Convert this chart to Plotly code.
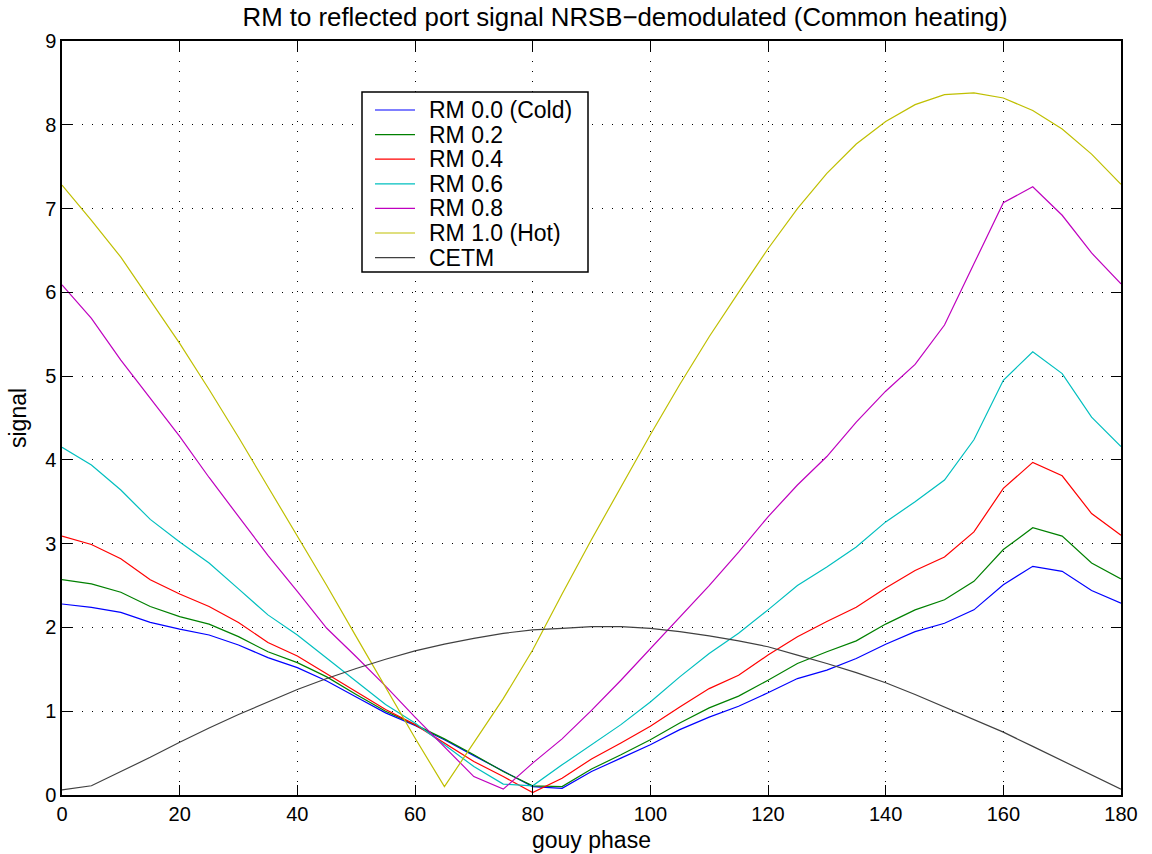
import plotly.graph_objects as go

# gouy phase (degrees)
gouy_phase = [0, 5, 10, 15, 20, 25, 30, 35, 40, 45, 50, 55, 60, 65, 70, 75, 80, 85, 90,
              95, 100, 105, 110, 115, 120, 125, 130, 135, 140, 145, 150, 155, 160, 165,
              170, 175, 180]

rm_00 = [2.28, 2.24, 2.18, 2.06, 1.98, 1.91, 1.79, 1.64, 1.52, 1.36, 1.17, 0.98, 0.83,
         0.66, 0.47, 0.28, 0.10, 0.08, 0.28, 0.44, 0.60, 0.78, 0.93, 1.06, 1.22, 1.39,
         1.49, 1.63, 1.80, 1.95, 2.05, 2.21, 2.51, 2.73, 2.67, 2.44, 2.29]
rm_02 = [2.57, 2.52, 2.42, 2.25, 2.13, 2.04, 1.89, 1.71, 1.58, 1.41, 1.20, 1.00, 0.84,
         0.67, 0.48, 0.28, 0.11, 0.10, 0.31, 0.48, 0.66, 0.86, 1.04, 1.18, 1.37, 1.57,
         1.71, 1.84, 2.04, 2.21, 2.33, 2.55, 2.93, 3.19, 3.09, 2.77, 2.58]
rm_04 = [3.09, 2.99, 2.82, 2.57, 2.40, 2.25, 2.06, 1.82, 1.66, 1.45, 1.24, 1.02, 0.84,
         0.62, 0.40, 0.22, 0.03, 0.20, 0.43, 0.62, 0.82, 1.05, 1.27, 1.43, 1.67, 1.89,
         2.07, 2.24, 2.47, 2.68, 2.84, 3.14, 3.66, 3.97, 3.81, 3.36, 3.10]
rm_06 = [4.15, 3.94, 3.64, 3.29, 3.02, 2.77, 2.46, 2.15, 1.91, 1.63, 1.35, 1.08, 0.86,
         0.60, 0.34, 0.13, 0.11, 0.36, 0.60, 0.84, 1.11, 1.41, 1.69, 1.93, 2.21, 2.50,
         2.72, 2.96, 3.26, 3.50, 3.76, 4.24, 4.95, 5.29, 5.03, 4.51, 4.16]
rm_08 = [6.09, 5.69, 5.19, 4.74, 4.28, 3.79, 3.32, 2.86, 2.43, 1.99, 1.65, 1.30, 0.93,
         0.58, 0.22, 0.07, 0.38, 0.67, 1.01, 1.37, 1.75, 2.13, 2.50, 2.90, 3.32, 3.70,
         4.04, 4.45, 4.82, 5.14, 5.61, 6.34, 7.07, 7.26, 6.92, 6.47, 6.10]
rm_10 = [7.28, 6.86, 6.42, 5.90, 5.39, 4.84, 4.27, 3.68, 3.09, 2.50, 1.89, 1.28, 0.68,
         0.10, 0.62, 1.15, 1.73, 2.40, 3.05, 3.68, 4.30, 4.90, 5.47, 6.00, 6.52, 7.00,
         7.42, 7.77, 8.04, 8.24, 8.36, 8.38, 8.32, 8.17, 7.95, 7.65, 7.29]
cetm = [0.06, 0.11, 0.28, 0.45, 0.63, 0.80, 0.96, 1.11, 1.26, 1.39, 1.51, 1.62, 1.72,
        1.80, 1.87, 1.93, 1.97, 1.99, 2.01, 2.01, 1.99, 1.95, 1.90, 1.84, 1.77, 1.67,
        1.57, 1.46, 1.34, 1.20, 1.05, 0.90, 0.75, 0.58, 0.41, 0.24, 0.07]

series_names = ["RM 0.0 (Cold)", "RM 0.2", "RM 0.4", "RM 0.6", "RM 0.8", "RM 1.0 (Hot)", "CETM"]
series_values = [rm_00, rm_02, rm_04, rm_06, rm_08, rm_10, cetm]
series_colors = ["#0000ff", "#008000", "#ff0000", "#00bfbf", "#bf00bf", "#bfbf00", "#404040"]

FONT = "Liberation Sans, Arial, Helvetica, sans-serif"
W, H = 1152, 854
L, R, T, B = 62, 31, 41, 59
PW, PH = W - L - R, H - T - B


def px_x(p):
    """pixel column -> paper x"""
    return (p - L) / PW


def px_y(p):
    """pixel row -> paper y"""
    return (H - B - p) / PH


fig = go.Figure()
for name, vals, col in zip(series_names, series_values, series_colors):
    fig.add_trace(go.Scatter(x=gouy_phase, y=vals, mode="lines", name=name,
                             line=dict(color=col, width=1.2), showlegend=False))

axis_common = dict(
    showline=True, linecolor="black", linewidth=1.5, mirror="allticks",
    ticks="inside", ticklen=10, tickcolor="black", tickwidth=1,
    showgrid=True, gridcolor="black", gridwidth=1, griddash="1px,9px",
    zeroline=False, tickfont=dict(family=FONT, size=20, color="black"),
)

fig.update_xaxes(range=[0, 180], tickvals=[0, 20, 40, 60, 80, 100, 120, 140, 160, 180],
                 **axis_common)
fig.update_yaxes(range=[0, 9], tickvals=list(range(0, 10)), **axis_common)

shapes = []
annotations = []

# boxed legend in the upper left part of the axes
box_l, box_t, box_r, box_b = 362, 92, 588, 272
shapes.append(dict(type="rect", xref="paper", yref="paper",
                   x0=px_x(box_l), x1=px_x(box_r), y0=px_y(box_b), y1=px_y(box_t),
                   line=dict(color="black", width=1.5), fillcolor="white", layer="above"))
row0, row_step = 110, 24.6
for i, (name, col) in enumerate(zip(series_names, series_colors)):
    yy = px_y(row0 + i * row_step)
    shapes.append(dict(type="line", xref="paper", yref="paper",
                       x0=px_x(375), x1=px_x(415), y0=yy, y1=yy,
                       line=dict(color=col, width=1.2), layer="above"))
    annotations.append(dict(text=name, xref="paper", yref="paper", x=px_x(427), y=yy,
                            xanchor="left", yanchor="middle", showarrow=False,
                            font=dict(family=FONT, size=23, color="black")))

# axis titles
annotations.append(dict(text="gouy phase", xref="paper", yref="paper",
                        x=px_x(591), y=px_y(840), xanchor="center", yanchor="middle",
                        showarrow=False, font=dict(family=FONT, size=23, color="black")))
annotations.append(dict(text="signal", xref="paper", yref="paper",
                        x=px_x(18), y=px_y(418), xanchor="center", yanchor="middle",
                        textangle=-90, showarrow=False,
                        font=dict(family=FONT, size=23, color="black")))

fig.update_layout(
    width=W, height=H,
    margin=dict(l=L, r=R, t=T, b=B),
    paper_bgcolor="white", plot_bgcolor="white",
    title=dict(text="RM to reflected port signal NRSB\u2212demodulated (Common heating)",
               font=dict(family=FONT, size=25.8, color="black"),
               x=625 / W, xanchor="center", y=1 - 17 / H, yanchor="middle"),
    shapes=shapes,
    annotations=annotations,
    showlegend=False,
)

fig.write_html("out.html")
